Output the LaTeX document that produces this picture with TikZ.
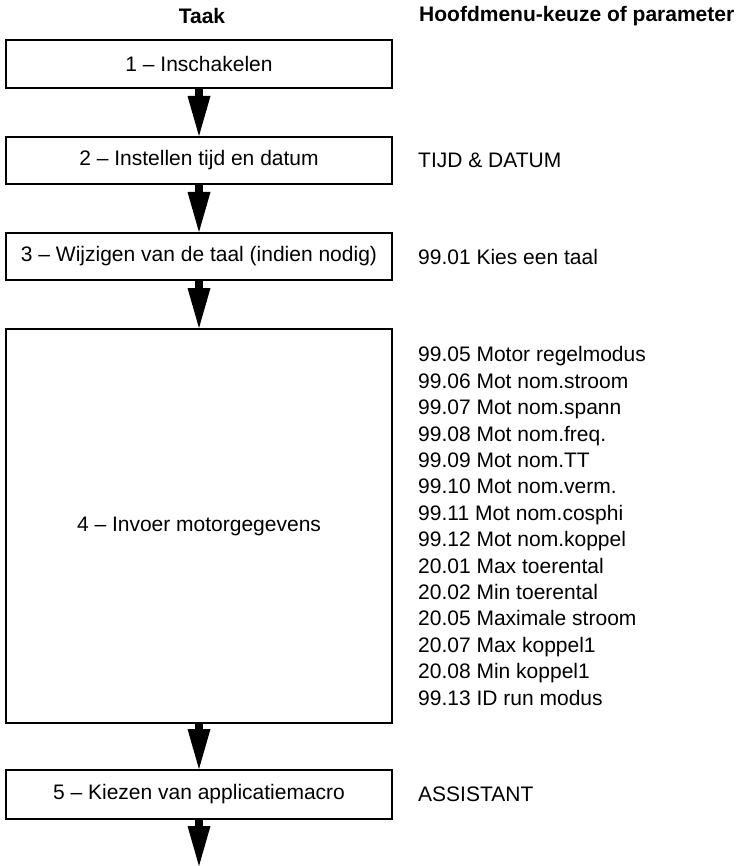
\documentclass[tikz,border=0pt]{standalone}
\usepackage{fontspec}
\setmainfont{Liberation Sans}
\usetikzlibrary{arrows.meta}
\begin{document}
\begin{tikzpicture}[x=1pt,y=-1pt,
  every node/.style={font=\fontsize{21}{26.4}\selectfont},
  taskbox/.style={draw=black,line width=2pt,minimum width=386pt,inner sep=0pt,align=center},
  param/.style={anchor=west,inner sep=0pt,align=left},
  head/.style={inner sep=0pt,font=\fontsize{21}{26.4}\selectfont\bfseries},
  flowarrow/.style={line width=8pt,-{Triangle[width=23pt,length=40pt,line width=0pt]}}]
\useasboundingbox (0,0) rectangle (741,866);
\node[head] (h1) at (202,16) {Taak};
\node[head,anchor=west] (h2) at (419,16) {Hoofdmenu-keuze of parameter};
\node[taskbox,minimum height=48pt] (b1) at (199,64) {1 – Inschakelen};
\node[taskbox,minimum height=47pt] (b2) at (199,160.5) {2 – Instellen tijd en datum};
\node[taskbox,minimum height=47pt] (b3) at (199,256.5) {3 – Wijzigen van de taal (indien nodig)};
\node[taskbox,minimum height=394pt] (b4) at (199,526) {4 – Invoer motorgegevens};
\node[taskbox,minimum height=49pt] (b5) at (199,794.5) {5 – Kiezen van applicatiemacro};
\coordinate (end) at (199,866);
\node[param] (p2) at (418,160) {TIJD \& DATUM};
\node[param] (p3) at (418,256.5) {99.01 Kies een taal};
\node[param] (p4) at (418,526) {99.05 Motor regelmodus\\99.06 Mot nom.stroom\\99.07 Mot nom.spann\\99.08 Mot nom.freq.\\99.09 Mot nom.TT\\99.10 Mot nom.verm.\\99.11 Mot nom.cosphi\\99.12 Mot nom.koppel\\20.01 Max toerental\\20.02 Min toerental\\20.05 Maximale stroom\\20.07 Max koppel1\\20.08 Min koppel1\\99.13 ID run modus};
\node[param] (p5) at (418,794.5) {ASSISTANT};
\draw[flowarrow] (b1.south) -- (b2.north);
\draw[flowarrow] (b2.south) -- (b3.north);
\draw[flowarrow] (b3.south) -- (b4.north);
\draw[flowarrow] (b4.south) -- (b5.north);
\draw[flowarrow] (b5.south) -- (end);
\end{tikzpicture}
\end{document}
